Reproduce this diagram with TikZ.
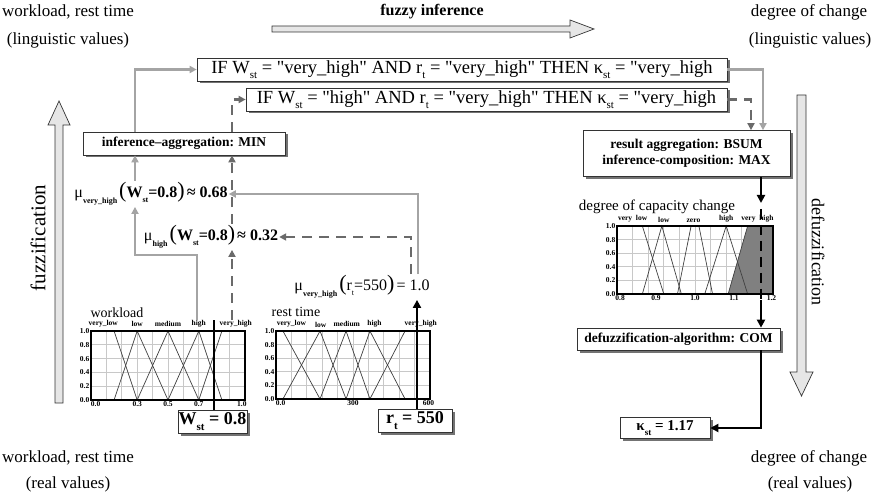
\documentclass[tikz,border=0pt]{standalone}
\usepackage{fontspec}
\setmainfont{Liberation Serif}[Ligatures=TeXOff]
\usetikzlibrary{arrows.meta,shadows}
\definecolor{cgray}{HTML}{A4A4A4}
\definecolor{dgray}{HTML}{6A6A6A}
\definecolor{gridc}{HTML}{C8C8C8}
\definecolor{hollowc}{HTML}{E6E6E6}
\newcommand\fsz[1]{\fontsize{#1}{#1}\selectfont}
\newcommand\sbs[1]{\raisebox{-0.28em}{\fsz{11}#1}}
\newcommand\msub[1]{\raisebox{-0.4em}{\fsz{8}\bfseries #1}}
\newcommand\chartgrid{%
  \foreach \i in {1,...,9} \draw[gridline] (\i/10,0) -- (\i/10,1);
  \foreach \j in {1,...,4} \draw[gridline] (0,\j/5) -- (1,\j/5);}
\newcommand\chartframe{%
  \draw[line width=2pt, black!70] (0,0) -- (1,0);
  \draw[line width=1.1pt] (0,0) rectangle (1,1);
  \foreach \v/\t in {0/0.0,0.2/0.2,0.4/0.4,0.6/0.6,0.8/0.8,1/1.0}
    \node[ylab] at (0,\v) {\t};}
\begin{document}
\begin{tikzpicture}[x=1pt,y=-1pt,
  box/.style={draw=black!80, line width=0.7pt, fill=white, inner sep=0pt,
    drop shadow={shadow xshift=2.5pt, shadow yshift=-2.5pt, fill=black!55, opacity=1}},
  rulebox/.style={box, font=\fsz{18.5}},
  algbox/.style={box, font=\fsz{13.5}\bfseries},
  valbox/.style={box, font=\fsz{18}\bfseries},
  gconn/.style={draw=cgray, line width=2.6pt, -{Triangle[length=7pt,width=7pt]}},
  dconn/.style={draw=dgray, line width=2.6pt, dash pattern=on 10pt off 7pt, -{Triangle[length=7pt,width=7pt]}},
  bconn/.style={draw=black, line width=2.6pt, -{Triangle[length=8pt,width=8pt]}},
  hollow/.style={draw=black!80, line width=0.7pt, fill=hollowc},
  corner/.style={font=\fsz{17}, inner sep=0pt},
  mulab/.style={fill=white, inner sep=1pt, font=\fsz{16}},
  gridline/.style={draw=gridc, line width=0.8pt},
  mf/.style={draw=black!75, line width=0.7pt},
  ylab/.style={anchor=east, font=\fsz{7.5}\bfseries, inner sep=1.5pt},
  xlab/.style={anchor=north, font=\fsz{7.5}\bfseries, inner sep=1.5pt},
  tlab/.style={anchor=south, font=\fsz{7.5}\bfseries, inner sep=1pt},
  ctitle/.style={font=\fsz{14}, inner sep=0pt}]
\useasboundingbox (0,0) rectangle (876,497);
\fill[white] (0,0) rectangle (876,497);

% ---------- corner texts ----------
\node[corner] (tl1) at (68,12) {workload, rest time};
\node[corner] (tl2) at (68,40) {(linguistic values)};
\node[corner] (tr1) at (809,12) {degree of change};
\node[corner] (tr2) at (810,40) {(linguistic values)};
\node[corner] (bl1) at (68,458) {workload, rest time};
\node[corner] (bl2) at (68,484) {(real values)};
\node[corner] (br1) at (809,458) {degree of change};
\node[corner] (br2) at (810,484) {(real values)};
\node[corner, font=\fsz{16}\bfseries] (fi) at (432,12) {fuzzy inference};
\node[corner, font=\fsz{21}, rotate=90] (fz) at (38,238) {fuzzification};
\node[corner, font=\fsz{18}, rotate=-90] (dfz) at (818,252) {defuzzification};

% ---------- hollow arrows ----------
\draw[hollow] (272,26) -- (570,26) -- (570,20) -- (594,29) -- (570,38) -- (570,32) -- (272,32) -- cycle;
\draw[hollow] (55,403) -- (55,125) -- (48,125) -- (59,101) -- (70,125) -- (63,125) -- (63,403) -- cycle;
\draw[hollow] (797,95) -- (797,372) -- (790,372) -- (801.5,396) -- (813,372) -- (806,372) -- (806,95) -- cycle;

% ---------- boxes ----------
\node[rulebox, minimum width=530pt, minimum height=23pt] (r1) at (462,69.5)
  {IF W\sbs{st} = "very\_high" AND r\sbs{t} = "very\_high" THEN κ\sbs{st} = "very\_high};
\node[rulebox, minimum width=481pt, minimum height=23pt] (r2) at (486.5,99.5)
  {IF W\sbs{st} = "high" AND r\sbs{t} = "very\_high" THEN κ\sbs{st} = "very\_high};
\node[algbox, minimum width=202pt, minimum height=23pt] (infagg) at (184,143.5) {inference–aggregation: MIN};
\node[algbox, minimum width=207pt, minimum height=46pt, align=center] (resagg) at (686.5,153.5)
  {result aggregation: BSUM\\[2pt]inference-composition: MAX};
\node[algbox, minimum width=203pt, minimum height=22pt] (defuz) at (678.5,339) {defuzzification-algorithm: COM};
\node[box, font=\fsz{15}\bfseries, minimum width=90pt, minimum height=21pt] (kappa) at (665,428) {κ\raisebox{-0.3em}{\fsz{9}st} = 1.17};
\node[valbox, minimum width=69pt, minimum height=23pt] (wbox) at (212.5,421.5) {W\raisebox{-0.3em}{\fsz{11}st} = 0.8};
\node[valbox, minimum width=74pt, minimum height=23pt] (rbox) at (415,420.5) {r\raisebox{-0.3em}{\fsz{11}t} = 550};

% ---------- membership labels ----------
\node[mulab] (L1) at (151,194)
  {μ\msub{very\_high}\hspace{2pt}{\fsz{22}(}\textbf{W\raisebox{-0.3em}{\fsz{8}st}=0.8}{\fsz{22})}\hspace{2pt}\textbf{≈ 0.68}};
\node[mulab] (L2) at (211,237)
  {μ\msub{high}\hspace{2pt}{\fsz{22}(}\textbf{W\raisebox{-0.3em}{\fsz{8}st}=0.8}{\fsz{22})}\hspace{2pt}\textbf{≈ 0.32}};
\node[mulab] (L3) at (362,287)
  {μ\msub{very\_high}\hspace{2pt}{\fsz{22}(}r\raisebox{-0.3em}{\fsz{8}t}=550{\fsz{22})}\hspace{2pt}= 1.0};

% ---------- chart 1: workload ----------
\node[ctitle] (t1) at (117,313) {workload};
\begin{scope}[shift={(91,400)}, x=154pt, y=69pt]
  \chartgrid
  \draw[mf] (0,1) -- (0.15,1) -- (0.3,0);
  \draw[mf] (0.15,0) -- (0.3,1) -- (0.5,0);
  \draw[mf] (0.3,0) -- (0.5,1) -- (0.7,0);
  \draw[mf] (0.5,0) -- (0.7,1) -- (0.85,0);
  \draw[mf] (0.7,0) -- (0.85,1) -- (1,1);
  \chartframe
  \node[xlab] at (0.03,0) {0.0};
  \node[xlab] at (0.3,0) {0.3};
  \node[xlab] at (0.5,0) {0.5};
  \node[xlab] at (0.7,0) {0.7};
  \node[xlab] at (0.98,0) {1.0};
  \node[tlab] at (0.08,1.04) {very\_low};
  \node[tlab] at (0.3,1.04) {low};
  \node[tlab] at (0.5,1.04) {medium};
  \node[tlab] at (0.7,1.04) {high};
  \node[tlab] at (0.94,1.04) {very\_high};
\end{scope}

% ---------- chart 2: rest time ----------
\node[ctitle] (t2) at (296,312) {rest time};
\begin{scope}[shift={(276,399)}, x=154pt, y=68pt]
  \chartgrid
  \draw[mf] (0,1) -- (0.045,1) -- (0.286,0);
  \draw[mf] (0.045,0) -- (0.286,1) -- (0.455,0);
  \draw[mf] (0.286,0) -- (0.455,1) -- (0.61,0);
  \draw[mf] (0.455,0) -- (0.61,1) -- (0.838,0);
  \draw[mf] (0.61,0) -- (0.838,1) -- (1,1);
  \chartframe
  \node[xlab] at (0.03,0) {0.0};
  \node[xlab] at (0.5,0) {300};
  \node[xlab] at (0.99,0) {600};
  \node[tlab] at (0.1,1.04) {very\_low};
  \node[tlab] at (0.29,1.04) {low};
  \node[tlab] at (0.46,1.04) {medium};
  \node[tlab] at (0.64,1.04) {high};
  \node[tlab] at (0.94,1.04) {very\_high};
\end{scope}

% ---------- chart 3: capacity change ----------
\node[ctitle, font=\fsz{15}] (t3) at (657,207) {degree of capacity change};
\begin{scope}[shift={(617,294)}, x=156pt, y=68pt]
  \chartgrid
  \fill[black!50] (0.7125,0) -- (0.8375,1) -- (1,1) -- (1,0) -- cycle;
  \draw[mf] (0,1) -- (0.1625,1) -- (0.3,0);
  \draw[mf] (0.1625,0) -- (0.2875,1) -- (0.4125,0);
  \draw[mf] (0.3875,0) -- (0.475,1) -- (0.525,1) -- (0.6125,0);
  \draw[mf] (0.5625,0) -- (0.7,1) -- (0.8375,0);
  \draw[mf] (0.7125,0) -- (0.8375,1) -- (1,1);
  \chartframe
  \node[xlab] at (0.02,0) {0.8};
  \node[xlab] at (0.25,0) {0.9};
  \node[xlab] at (0.5,0) {1.0};
  \node[xlab] at (0.75,0) {1.1};
  \node[xlab] at (0.99,0) {1.2};
  \node[tlab] at (0.1,1.04) {very\ \ low};
  \node[tlab] at (0.3,1.04) {low};
  \node[tlab] at (0.49,1.04) {zero};
  \node[tlab] at (0.7,1.04) {high};
  \node[tlab] at (0.9,1.04) {very\ \ high};
\end{scope}

% ---------- connectors ----------
\coordinate (xa) at (135,0);
\coordinate (xb) at (232,0);
\coordinate (xc) at (418,0);
\coordinate (xd) at (411,0);
\coordinate (xr) at (417,0);
\coordinate (xw) at (214,0);
\coordinate (xe) at (763,0);
\coordinate (xf) at (751,0);
\coordinate (xg) at (761,0);
\coordinate (g1) at (197,320);
\coordinate (d1) at (232,320);
\coordinate (k1) at (761,203);
\coordinate (k2) at (761,209);
\coordinate (k3) at (761,300);

\draw[gconn] (infagg.north -| xa) |- (r1.west);
\draw[dconn] (infagg.north -| xb) |- (r2.west);
\draw[gconn] (L1.north -| xa) -- (infagg.south -| xa);
\draw[dconn] (L2.north -| xb) -- (infagg.south -| xb);
\node[mulab] (L1b) at (L1) {μ\msub{very\_high}\hspace{2pt}{\fsz{22}(}\textbf{W\raisebox{-0.3em}{\fsz{8}st}=0.8}{\fsz{22})}\hspace{2pt}\textbf{≈ 0.68}};
\draw[gconn] (g1) -- ++(0,-65) -| (L1.south -| xa);
\draw[dconn] (d1) -- (L2.south -| xb);
\draw[gconn] (L3.north -| xc) |- (L1.east);
\draw[dconn] (L3.north -| xd) |- (L2.east);
\draw[bconn] (rbox.north -| xr) -- (L3.south -| xr);
\draw[draw=black, line width=2.6pt] (wbox.north -| xw) -- (xw |- g1);

\draw[gconn] (r1.east) -| (resagg.north -| xe);
\draw[dconn] (r2.east) -| (resagg.north -| xf);
\draw[bconn] (resagg.south -| xg) -- (k1);
\draw[draw=black, line width=2.6pt, dash pattern=on 10pt off 6pt] (k2) -- (k3);
\draw[bconn] (k3) -- (defuz.north -| xg);
\draw[bconn] (defuz.south -| xg) |- (kappa.east);
\end{tikzpicture}
\end{document}
